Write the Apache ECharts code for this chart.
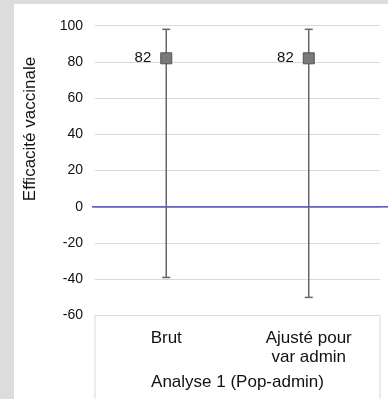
<!DOCTYPE html>
<html>
<head>
<meta charset="utf-8">
<script src="https://cdn.jsdelivr.net/npm/echarts@6/dist/echarts.min.js"></script>
<style>
  html, body { margin: 0; padding: 0; background: #dcdcdc; }
  #paper { position: absolute; left: 14px; top: 4px; width: 374px; height: 395px; background: #fff; }
  #chart { position: absolute; left: 0; top: 0; width: 388px; height: 399px; }
</style>
</head>
<body>
<div id="paper"></div>
<div id="chart"></div>
<script>
const categories = ["Brut", "Ajusté pour\nvar admin"];
const estimates = [82, 82];
const upper = [98, 98];
const lower = [-39, -50];
const groupLabel = "Analyse 1 (Pop-admin)";
const yName = "Efficacité vaccinale";

const chart = echarts.init(document.getElementById("chart"));
const font = "'Liberation Sans', Arial, sans-serif";

chart.setOption({
  animation: false,
  grid: { left: 95, right: 8, top: 25.7, bottom: 83.5 },
  xAxis: {
    type: "category",
    data: categories,
    boundaryGap: true,
    axisLine: { lineStyle: { color: "#d9d9d9", width: 1 } },
    axisTick: { show: false },
    axisLabel: {
      margin: 13,
      color: "#111",
      fontFamily: font,
      fontSize: 17,
      lineHeight: 19,
    },
    name: groupLabel,
    nameLocation: "middle",
    nameGap: 58,
    nameTextStyle: { color: "#111", fontFamily: font, fontSize: 17 },
  },
  yAxis: {
    type: "value",
    min: -60,
    max: 100,
    interval: 20,
    axisLine: { show: false },
    axisTick: { show: false },
    axisLabel: { margin: 12, color: "#111", fontFamily: font, fontSize: 14 },
    splitLine: { lineStyle: { color: "#d9d9d9", width: 1 } },
  },
  series: [
    {
      type: "custom",
      data: categories.map((c, i) => [i, lower[i], upper[i]]),
      renderItem(params, api) {
        const lo = api.coord([api.value(0), api.value(1)]);
        const hi = api.coord([api.value(0), api.value(2)]);
        const cap = 4;
        const style = { stroke: "#666", lineWidth: 1.5 };
        return {
          type: "group",
          children: [
            { type: "line", shape: { x1: hi[0], y1: hi[1], x2: lo[0], y2: lo[1] }, style },
            { type: "line", shape: { x1: hi[0] - cap, y1: hi[1], x2: hi[0] + cap, y2: hi[1] }, style },
            { type: "line", shape: { x1: lo[0] - cap, y1: lo[1], x2: lo[0] + cap, y2: lo[1] }, style },
          ],
        };
      },
      z: 2,
    },
    {
      type: "scatter",
      data: estimates,
      symbol: "rect",
      symbolSize: 11,
      itemStyle: { color: "#7a7a7a", borderColor: "#555", borderWidth: 1, opacity: 1 },
      label: {
        show: true,
        position: "left",
        distance: 9,
        color: "#111",
        fontFamily: font,
        fontSize: 15,
      },
      z: 3,
    },
  ],
});

// zero reference line, placed through the axis scale
const y0 = chart.convertToPixel({ yAxisIndex: 0 }, 0);
chart.setOption({
  graphic: [
    {
      type: "line",
      shape: { x1: 92, y1: y0, x2: 388, y2: y0 },
      style: { stroke: "#2f2fa8", lineWidth: 1.2 },
      z: 1,
    },
    {
      type: "text",
      x: 30,
      y: 129,
      rotation: Math.PI / 2,
      style: {
        text: yName,
        fill: "#111",
        font: "17px " + font,
        align: "center",
        verticalAlign: "middle",
      },
    },
    {
      type: "rect",
      shape: { x: 95, y: 315.5, width: 285, height: 100 },
      style: { fill: "none", stroke: "#d9d9d9", lineWidth: 1 },
      silent: true,
    },
  ],
});
</script>
</body>
</html>
